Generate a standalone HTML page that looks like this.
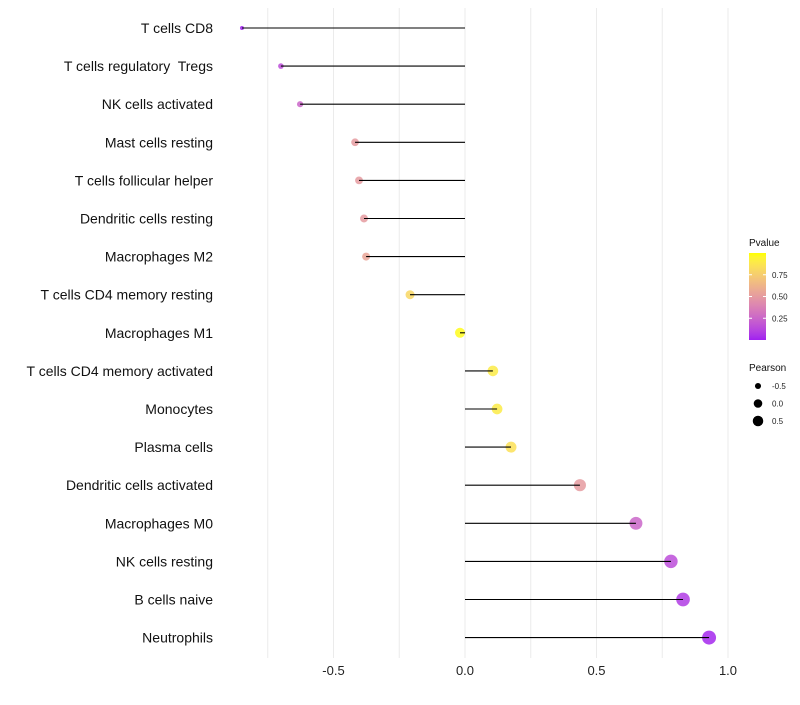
<!DOCTYPE html>
<html><head><meta charset="utf-8"><style>
body{margin:0;background:#fff;font-family:"Liberation Sans",sans-serif}
text{white-space:pre}
</style></head><body>
<svg id="c" width="800" height="700" xmlns="http://www.w3.org/2000/svg"></svg>
<script>
const categories=["T cells CD8","T cells regulatory  Tregs","NK cells activated","Mast cells resting","T cells follicular helper","Dendritic cells resting","Macrophages M2","T cells CD4 memory resting","Macrophages M1","T cells CD4 memory activated","Monocytes","Plasma cells","Dendritic cells activated","Macrophages M0","NK cells resting","B cells naive","Neutrophils"];
const pearson=[-0.848,-0.70,-0.627,-0.418,-0.403,-0.384,-0.376,-0.209,-0.019,0.106,0.122,0.175,0.437,0.65,0.783,0.829,0.928];
const pvalue=[0.0,0.15,0.25,0.5,0.5,0.5,0.55,0.8,0.98,0.9,0.9,0.85,0.5,0.25,0.15,0.08,0.02];
const xTicks=[-0.5,0,0.5,1.0];
const xTickLabels=["-0.5","0.0","0.5","1.0"];
const legendP=[0.25,0.5,0.75];
const legendS=[-0.5,0,0.5];

const svg=document.getElementById('c');
const NS="http://www.w3.org/2000/svg";
const X=v=>465+v*263;
const Y=i=>28+i*38.1;
const R=v=>Math.sqrt(Math.max(1,25.5+25.3*v));
function toLin(c){c/=255;return c<=0.04045?c/12.92:Math.pow((c+0.055)/1.055,2.4);}
function fromLin(c){c=c<=0.0031308?12.92*c:1.055*Math.pow(c,1/2.4)-0.055;return Math.max(0,Math.min(255,Math.round(c*255)));}
function rgb2lab(r){const [R_,G,B]=r.map(toLin);let x=(0.4124*R_+0.3576*G+0.1805*B)/0.95047,y=0.2126*R_+0.7152*G+0.0722*B,z=(0.0193*R_+0.1192*G+0.9505*B)/1.08883;
const f=t=>t>0.008856?Math.cbrt(t):7.787*t+16/116;x=f(x);y=f(y);z=f(z);return [116*y-16,500*(x-y),200*(y-z)];}
function lab2rgb(l){let y=(l[0]+16)/116,x=l[1]/500+y,z=y-l[2]/200;const g=t=>t*t*t>0.008856?t*t*t:(t-16/116)/7.787;x=g(x)*0.95047;y=g(y);z=g(z)*1.08883;
return [3.2406*x-1.5372*y-0.4986*z,-0.9689*x+1.8758*y+0.0415*z,0.0557*x-0.2040*y+1.0570*z].map(fromLin);}
const LA=rgb2lab([160,32,240]),LB=rgb2lab([255,255,0]);
function col(p){return `rgb(${lab2rgb(LA.map((c,i)=>c+(LB[i]-c)*p)).join(',')})`;}
function mk(t,at,parent){const e=document.createElementNS(NS,t);for(const k in at)e.setAttribute(k,at[k]);(parent||svg).appendChild(e);return e;}

for(let v=-0.75;v<=1.01;v+=0.25){
  const g=mk('line',{x1:X(v),x2:X(v),y1:8,y2:658,stroke:'#ebebeb','stroke-width':1});
  
  
}
xTicks.forEach((v,i)=>{
  const t=mk('text',{x:X(v),y:675,'text-anchor':'middle','font-size':13,fill:'#222'});
  t.textContent=xTickLabels[i];
  
  
});
categories.forEach((c,i)=>{
  const t=mk('text',{x:213,y:Y(i)+5,'text-anchor':'end','font-size':14,fill:'#111'});
  t.textContent=c;
  
  
  const d=mk('circle',{cx:X(pearson[i]),cy:Y(i),r:R(pearson[i]),fill:col(pvalue[i]),'fill-opacity':0.85});
  
  
  const l=mk('line',{x1:X(0),x2:X(pearson[i]),y1:Y(i),y2:Y(i),stroke:'#000','stroke-width':1.1});
  
  
});
const lt=mk('text',{x:749,y:246,'font-size':10,fill:'#111'});lt.textContent='Pvalue';


const defs=mk('defs',{});
const gr=mk('linearGradient',{id:'gd',x1:0,y1:1,x2:0,y2:0},defs);
for(let k=0;k<=20;k++)mk('stop',{offset:k/20,'stop-color':col(k/20)},gr);
const bar=mk('rect',{x:749,y:253,width:17,height:87,fill:'url(#gd)'});


const PY=p=>340-p*87;
legendP.forEach(p=>{
  mk('line',{x1:749,x2:752,y1:PY(p),y2:PY(p),stroke:'#fff'});
  mk('line',{x1:763,x2:766,y1:PY(p),y2:PY(p),stroke:'#fff'});
  const t=mk('text',{x:772,y:PY(p)+3,'font-size':8,fill:'#222'});t.textContent=p.toFixed(2);
  
  
});
const st=mk('text',{x:749,y:371,'font-size':10,fill:'#111'});st.textContent='Pearson';


legendS.forEach((v,i)=>{
  const y=386+i*17.5;
  const c=mk('circle',{cx:758,cy:y,r:R(v)*0.85,fill:'#000'});
  
  
  const t=mk('text',{x:772,y:y+3,'font-size':8,fill:'#222'});t.textContent=v===0?'0.0':v.toString();
  
  
});
</script>
</body></html>
